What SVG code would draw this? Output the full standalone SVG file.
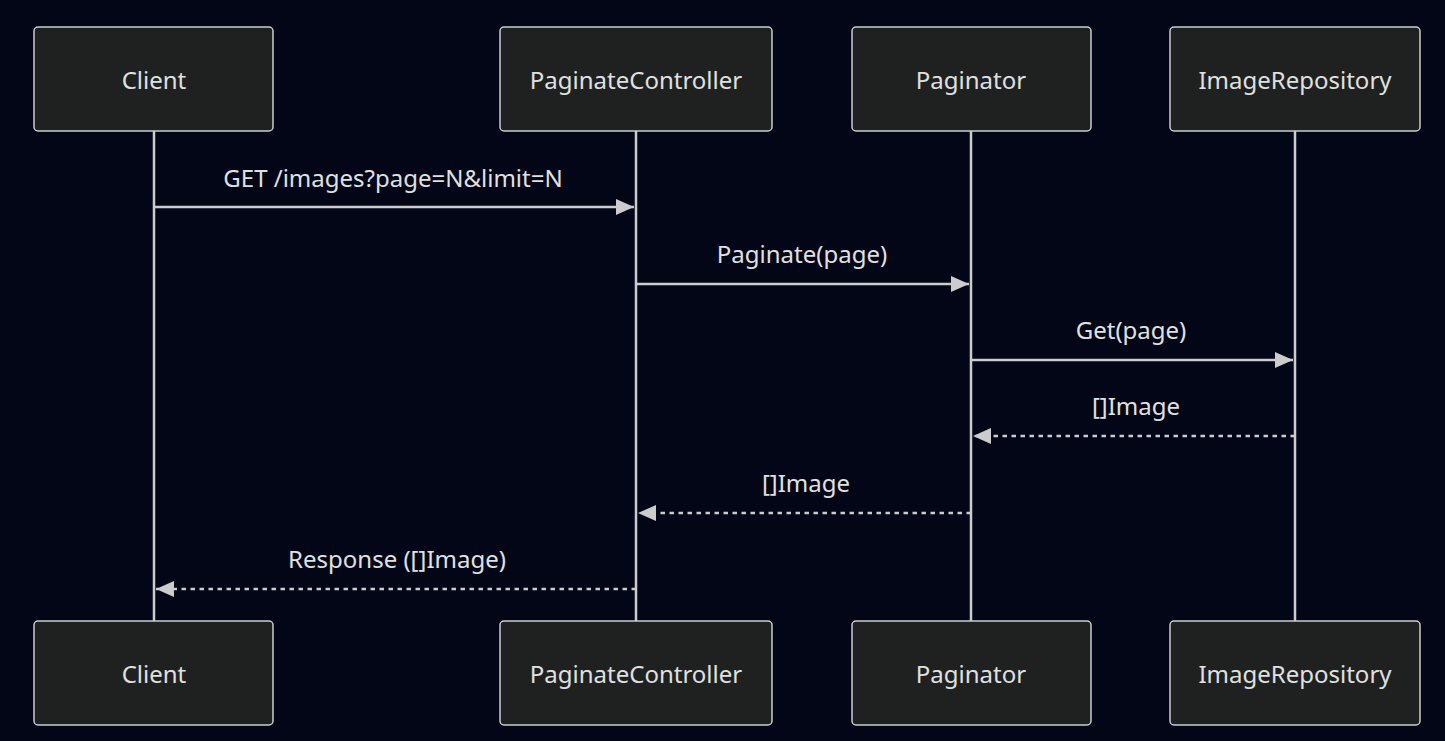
<svg xmlns="http://www.w3.org/2000/svg" width="1445" height="741" viewBox="0 0 1445 741">
<style>
.bg{fill:#020617}
.actor{fill:#1f2020;stroke:#cccccc;stroke-width:1.5}
.atext{font-family:"Trebuchet MS","Noto Sans","Open Sans",sans-serif;font-size:24px;fill:#e0e0e0;text-anchor:middle;dominant-baseline:central}
.life{stroke:#cccccc;stroke-width:2.5}
.msg{stroke:#cccccc;stroke-width:2.5;fill:none}
.dash{stroke-dasharray:4.5,4.5}
.mtext{font-family:"Trebuchet MS","Noto Sans","Open Sans",sans-serif;font-size:24px;fill:#e0e0e0;text-anchor:middle}
</style>
<defs>
<marker id="ahb" viewBox="0 0 18 16" refX="18" refY="8" markerWidth="18" markerHeight="16" markerUnits="userSpaceOnUse" orient="auto">
<path d="M0,0 L18,8 L0,16 z" fill="#cccccc"/>
</marker>
</defs>
<rect class="bg" x="0" y="0" width="1445" height="741"/>
<g id="lifelines">
<line class="life" x1="154" y1="131" x2="154" y2="621"/>
<line class="life" x1="636" y1="131" x2="636" y2="621"/>
<line class="life" x1="971" y1="131" x2="971" y2="621"/>
<line class="life" x1="1295" y1="131" x2="1295" y2="621"/>
</g>
<g id="client-top"><rect class="actor" x="34" y="27" width="239" height="104" rx="4"/><text class="atext" x="154" y="79">Client</text></g>
<g id="controller-top"><rect class="actor" x="500" y="27" width="272" height="104" rx="4"/><text class="atext" x="636" y="79">PaginateController</text></g>
<g id="paginator-top"><rect class="actor" x="852" y="27" width="239" height="104" rx="4"/><text class="atext" x="971" y="79">Paginator</text></g>
<g id="repo-top"><rect class="actor" x="1170" y="27" width="250" height="104" rx="4"/><text class="atext" x="1295" y="79">ImageRepository</text></g>
<g id="client-bottom"><rect class="actor" x="34" y="621" width="239" height="104" rx="4"/><text class="atext" x="154" y="673">Client</text></g>
<g id="controller-bottom"><rect class="actor" x="500" y="621" width="272" height="104" rx="4"/><text class="atext" x="636" y="673">PaginateController</text></g>
<g id="paginator-bottom"><rect class="actor" x="852" y="621" width="239" height="104" rx="4"/><text class="atext" x="971" y="673">Paginator</text></g>
<g id="repo-bottom"><rect class="actor" x="1170" y="621" width="250" height="104" rx="4"/><text class="atext" x="1295" y="673">ImageRepository</text></g>
<g id="connectors">
<line class="msg" x1="154" y1="207" x2="634" y2="207" marker-end="url(#ahb)"/>
<text class="mtext" x="393" y="187">GET /images?page=N&amp;limit=N</text>
<line class="msg" x1="636" y1="284" x2="969" y2="284" marker-end="url(#ahb)"/>
<text class="mtext" x="802" y="263">Paginate(page)</text>
<line class="msg" x1="971" y1="360" x2="1293" y2="360" marker-end="url(#ahb)"/>
<text class="mtext" x="1131" y="339">Get(page)</text>
<line class="msg dash" x1="1295" y1="436" x2="973" y2="436" marker-end="url(#ahb)"/>
<text class="mtext" x="1136" y="415">[]Image</text>
<line class="msg dash" x1="971" y1="513" x2="638" y2="513" marker-end="url(#ahb)"/>
<text class="mtext" x="806" y="492">[]Image</text>
<line class="msg dash" x1="636" y1="589" x2="156" y2="589" marker-end="url(#ahb)"/>
<text class="mtext" x="397" y="568">Response ([]Image)</text>
</g>
</svg>
